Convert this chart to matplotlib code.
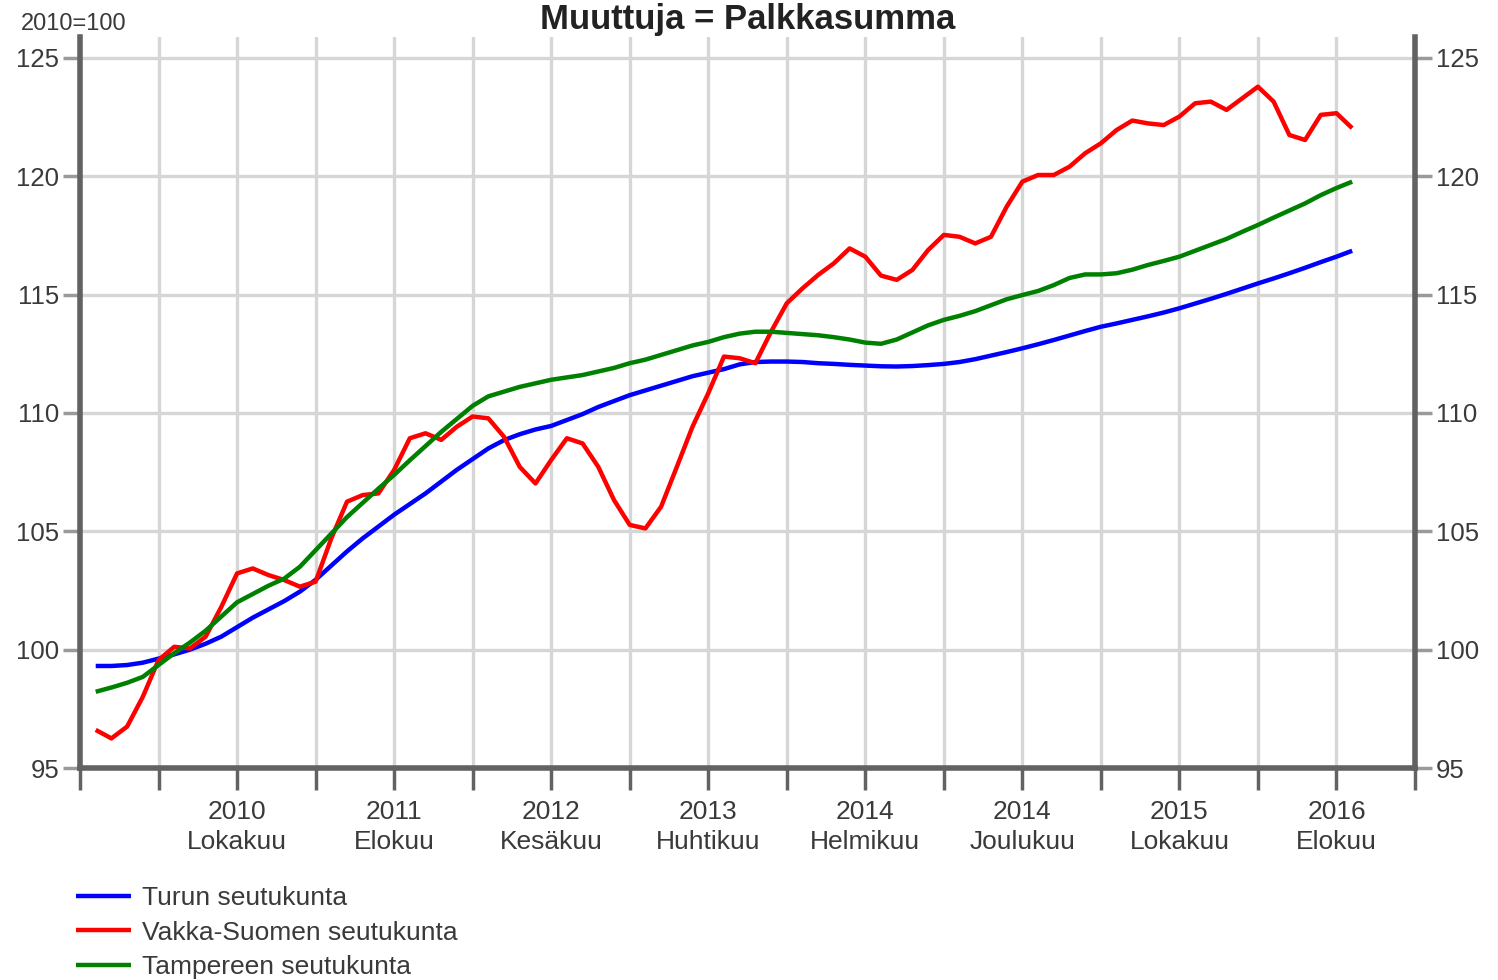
import matplotlib
matplotlib.use("Agg")
import matplotlib.pyplot as plt
import numpy as np

plt.rcParams['font.family'] = ['Liberation Sans', 'DejaVu Sans']

# ---- data (monthly, Jan 2010 .. Sep 2016), index 2010=100 ----
start_year, start_month = 2010, 1

turku = [99.31, 99.31, 99.35, 99.45, 99.62, 99.8, 100.0, 100.25, 100.55, 100.95,
         101.35, 101.7, 102.05, 102.45, 102.95, 103.55, 104.15, 104.7, 105.2, 105.7,
         106.15, 106.6, 107.1, 107.6, 108.05, 108.5, 108.85, 109.1, 109.3, 109.45,
         109.7, 109.95, 110.25, 110.5, 110.75, 110.95, 111.15, 111.35, 111.55, 111.7,
         111.85, 112.05, 112.15, 112.17, 112.17, 112.15, 112.1, 112.07, 112.03, 112.0,
         111.97, 111.96, 111.98, 112.02, 112.07, 112.15, 112.27, 112.42, 112.57, 112.73,
         112.9, 113.08, 113.27, 113.46, 113.64, 113.78, 113.93, 114.08, 114.24, 114.42,
         114.62, 114.82, 115.03, 115.25, 115.47, 115.68, 115.9, 116.13, 116.37, 116.6,
         116.85]

vakka = [96.61, 96.25, 96.75, 98.01, 99.56, 100.12, 100.05, 100.55, 101.81, 103.22,
         103.43, 103.15, 102.94, 102.66, 102.87, 104.7, 106.25, 106.53, 106.6, 107.59,
         108.93, 109.14, 108.86, 109.42, 109.85, 109.77, 108.99, 107.72, 107.02, 108.01,
         108.93, 108.71, 107.72, 106.32, 105.27, 105.12, 106.04, 107.72, 109.42, 110.83,
         112.38, 112.31, 112.1, 113.43, 114.63, 115.26, 115.83, 116.32, 116.95, 116.6,
         115.8, 115.62, 116.04, 116.88, 117.52, 117.44, 117.16, 117.44, 118.71, 119.77,
         120.05, 120.05, 120.4, 120.97, 121.39, 121.95, 122.35, 122.23, 122.16, 122.52,
         123.08, 123.15, 122.8, 123.29, 123.78, 123.15, 121.74, 121.53, 122.59, 122.66,
         122.03]

tampere = [98.22, 98.4, 98.6, 98.85, 99.35, 99.85, 100.3, 100.8, 101.4, 102.0,
           102.35, 102.7, 103.0, 103.5, 104.2, 104.9, 105.6, 106.2, 106.8, 107.38,
           108.0, 108.6, 109.2, 109.75, 110.3, 110.7, 110.9, 111.1, 111.25, 111.4,
           111.5, 111.6, 111.75, 111.9, 112.1, 112.25, 112.45, 112.65, 112.85, 113.0,
           113.2, 113.35, 113.43, 113.43, 113.38, 113.33, 113.28, 113.2, 113.1, 112.97,
           112.92, 113.1, 113.4, 113.7, 113.93, 114.1, 114.3, 114.55, 114.8, 114.98,
           115.15, 115.4, 115.7, 115.85, 115.85, 115.9, 116.05, 116.25, 116.42, 116.6,
           116.85, 117.1, 117.35, 117.65, 117.94, 118.25, 118.55, 118.85, 119.2, 119.5,
           119.77]

series_names = ["Turun seutukunta", "Vakka-Suomen seutukunta", "Tampereen seutukunta"]
series_colors = ["#0000ff", "#ff0000", "#008000"]

month_names = ["Tammikuu", "Helmikuu", "Maaliskuu", "Huhtikuu", "Toukokuu", "Kesäkuu",
               "Heinäkuu", "Elokuu", "Syyskuu", "Lokakuu", "Marraskuu", "Joulukuu"]
y_ticks = [95, 100, 105, 110, 115, 120, 125]

# ---- figure ----
W, H = 1498, 980
fig = plt.figure(figsize=(W / 100, H / 100), dpi=100)
ax = fig.add_axes([80 / W, 1 - 768 / H, (1415 - 80) / W, (768 - 37) / H])

x = np.arange(len(turku))
for vals, name, col in zip([turku, vakka, tampere], series_names, series_colors):
    ax.plot(x, vals, color=col, lw=3.2, label=name, zorder=3,
            solid_joinstyle='round', solid_capstyle='butt')

ax.set_xlim(-1, 84)
ax.set_ylim(95, 125.88)

xt = np.arange(-1, 85, 5)
ax.set_xticks(xt)
labels = []
for t in xt:
    if (t - 9) % 10 == 0 and 9 <= t <= 79:
        yr = start_year + (t + start_month - 1) // 12
        mo = (t + start_month - 1) % 12
        labels.append(f"{yr}\n{month_names[mo]}")
    else:
        labels.append("")
ax.set_xticklabels(labels, fontsize=19, color="#3a3a3a", linespacing=1.32)

ax.set_yticks(y_ticks)
ax.set_yticklabels([str(v) for v in y_ticks], fontsize=18.5, color="#3a3a3a")

ax.grid(True, color="#d6d6d6", lw=2.4, zorder=0)
ax.set_axisbelow(True)

spine_col = "#626262"
for s in ["left", "right", "bottom"]:
    ax.spines[s].set_color(spine_col)
    ax.spines[s].set_linewidth(4.0)
ax.spines["top"].set_visible(False)

ax.tick_params(axis='x', direction='out', length=16, width=2.5, color=spine_col, pad=7)
ax.tick_params(axis='y', direction='out', length=12, width=2.5, color="#9a9a9a", pad=3,
               left=True, right=True, labelleft=True, labelright=True)

fig.text(748 / W, 1 - 29 / H, "Muuttuja = Palkkasumma", ha='center', va='baseline',
         fontsize=25, fontweight='bold', color="#222222")
fig.text(21 / W, 1 - 30 / H, "2010=100", ha='left', va='baseline', fontsize=17,
         color="#3a3a3a")

handles, lbls = ax.get_legend_handles_labels()
fig.legend(handles, lbls, loc='upper left', bbox_to_anchor=(76 / W, 1 - 886 / H),
           frameon=False, fontsize=19, handlelength=2.1, handletextpad=0.42,
           labelspacing=0.40, borderaxespad=0, borderpad=0, labelcolor="#3a3a3a")

fig.savefig("out.png", dpi=100)
